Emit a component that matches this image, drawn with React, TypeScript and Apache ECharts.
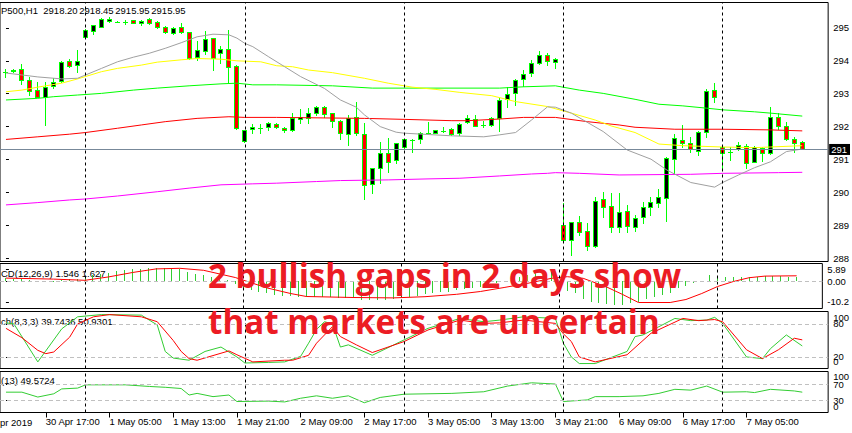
import React, { useEffect, useRef } from "react";
import * as echarts from "echarts";

// ---------- DATA ----------
// OHLC of each H1 bar: [open, high, low, close]
const ohlc: [number, number, number, number][] = [
  [2939.6, 2940.3, 2937.9, 2939.5], [2939.9, 2940.4, 2939.4, 2940.0], [2940.3, 2941.9, 2935.9, 2937.1],
  [2937.1, 2937.9, 2932.5, 2933.8], [2934.0, 2936.6, 2931.8, 2932.0], [2931.8, 2936.6, 2923.4, 2934.9],
  [2935.3, 2937.6, 2934.6, 2936.4], [2936.8, 2942.9, 2936.6, 2942.6], [2942.9, 2943.4, 2941.1, 2941.3],
  [2941.5, 2946.2, 2939.6, 2942.9], [2950.2, 2952.5, 2950.0, 2952.3], [2952.1, 2953.8, 2951.0, 2953.8],
  [2953.3, 2955.8, 2953.1, 2955.6], [2955.1, 2956.3, 2954.8, 2955.7], [2954.8, 2955.0, 2954.6, 2954.8],
  [2954.8, 2955.3, 2954.1, 2954.8], [2955.3, 2955.4, 2954.3, 2954.3], [2954.3, 2955.3, 2953.8, 2955.1],
  [2955.5, 2955.8, 2954.0, 2954.3], [2954.8, 2955.1, 2952.8, 2953.3], [2953.3, 2953.5, 2951.3, 2951.8],
  [2951.5, 2953.3, 2951.0, 2952.8], [2953.1, 2954.5, 2951.3, 2951.6], [2951.6, 2951.7, 2943.6, 2943.7],
  [2944.2, 2949.0, 2943.2, 2946.2], [2946.0, 2952.0, 2945.0, 2949.4], [2949.8, 2949.9, 2940.1, 2943.7],
  [2945.2, 2947.4, 2942.2, 2946.4], [2946.4, 2952.3, 2936.1, 2941.1], [2941.3, 2941.5, 2922.3, 2922.4],
  [2918.6, 2921.9, 2918.3, 2921.9], [2922.1, 2923.7, 2920.9, 2922.9], [2922.4, 2923.7, 2920.9, 2922.4],
  [2922.7, 2924.3, 2921.9, 2923.9], [2923.7, 2923.9, 2922.4, 2922.7], [2922.6, 2922.9, 2921.4, 2921.9],
  [2921.9, 2927.0, 2921.7, 2925.4], [2925.1, 2928.2, 2923.9, 2925.7], [2925.4, 2928.5, 2923.9, 2927.0],
  [2927.0, 2929.2, 2926.4, 2929.0], [2928.8, 2929.2, 2925.7, 2926.7], [2927.0, 2927.1, 2922.7, 2924.6],
  [2924.7, 2924.9, 2919.0, 2920.9], [2920.6, 2926.4, 2917.3, 2925.4], [2925.7, 2930.5, 2920.4, 2920.9],
  [2920.6, 2923.9, 2900.8, 2905.2], [2905.5, 2910.3, 2902.6, 2910.2], [2910.2, 2918.3, 2905.9, 2914.8],
  [2914.8, 2919.5, 2909.2, 2912.2], [2912.8, 2918.0, 2911.8, 2917.8], [2916.6, 2919.1, 2916.5, 2919.0],
  [2918.8, 2919.0, 2915.3, 2918.9], [2919.0, 2921.4, 2917.8, 2920.9], [2921.0, 2924.4, 2920.9, 2921.1],
  [2921.1, 2922.0, 2920.9, 2921.9], [2921.7, 2922.7, 2921.3, 2921.7], [2922.1, 2922.4, 2920.3, 2920.6],
  [2920.9, 2923.9, 2920.3, 2923.7], [2924.2, 2926.4, 2924.1, 2925.4], [2925.1, 2926.4, 2923.1, 2923.2],
  [2923.4, 2924.7, 2922.9, 2923.4], [2923.4, 2925.7, 2923.1, 2925.6], [2925.4, 2931.5, 2921.7, 2931.0],
  [2931.2, 2934.9, 2928.8, 2932.7], [2933.0, 2937.3, 2929.5, 2937.1], [2937.3, 2940.1, 2935.3, 2938.9],
  [2939.1, 2943.2, 2938.3, 2942.2], [2942.2, 2945.9, 2941.8, 2944.7], [2944.7, 2945.2, 2941.6, 2942.9],
  [2942.5, 2943.7, 2940.8, 2943.4], [2892.9, 2899.6, 2888.2, 2888.4], [2888.4, 2894.0, 2883.9, 2893.8],
  [2893.8, 2895.7, 2890.0, 2890.8], [2891.2, 2893.5, 2885.4, 2886.7], [2886.7, 2901.6, 2886.4, 2900.2],
  [2900.8, 2903.1, 2895.5, 2898.6], [2898.9, 2902.8, 2891.0, 2892.5], [2892.3, 2902.8, 2890.8, 2896.9],
  [2897.2, 2899.1, 2891.0, 2892.8], [2892.5, 2896.0, 2891.3, 2895.0], [2895.3, 2900.0, 2893.5, 2898.4],
  [2898.6, 2901.6, 2896.0, 2899.9], [2899.6, 2903.9, 2898.4, 2901.4], [2901.3, 2913.8, 2894.3, 2913.3],
  [2913.0, 2920.6, 2908.5, 2919.4], [2918.8, 2923.4, 2916.8, 2917.8], [2917.8, 2919.8, 2915.3, 2916.0],
  [2915.6, 2921.6, 2914.3, 2921.4], [2921.2, 2934.2, 2919.8, 2933.7], [2934.0, 2936.3, 2930.5, 2932.0],
  [2916.6, 2916.8, 2909.7, 2915.0], [2915.1, 2916.6, 2912.8, 2915.2], [2916.0, 2918.2, 2915.8, 2917.2],
  [2917.1, 2917.5, 2910.4, 2911.9], [2912.2, 2917.1, 2912.1, 2916.8], [2916.3, 2916.6, 2912.4, 2914.8],
  [2914.8, 2929.0, 2914.6, 2925.7], [2925.7, 2927.0, 2922.1, 2923.2], [2923.2, 2924.2, 2918.8, 2919.0],
  [2919.0, 2919.8, 2915.3, 2918.0], [2918.2, 2918.45, 2915.95, 2915.95],
];

// trading sessions (bar times)
const sessionDays = ["30 Apr", "1 May", "2 May", "3 May", "6 May", "7 May"];
const sessionFirstHour = [12, 2, 2, 2, 2, 2];
const sessionBarCount = [10, 20, 20, 20, 20, 11];

const daySeparators = [10, 30, 50, 70, 90];
const timeLabelBars = [5, 13, 21, 29, 37, 45, 53, 61, 69, 77, 85, 93];
const firstTimeLabel = "pr 2019";

// moving averages: [bar, price]
const maGray: [number, number][] = [
  [0, 2939.2], [2, 2938.6], [4, 2938.0], [7, 2937.4], [9, 2937.6], [10, 2938.6], [12, 2940.6], [14, 2942.6],
  [16, 2944.0], [18, 2945.2], [20, 2946.7], [22, 2948.4], [24, 2950.2], [26, 2951.0], [28, 2950.8], [29, 2949.8],
  [30, 2948.2], [31, 2947.2], [33, 2944.1], [35, 2941.1], [37, 2938.1], [40, 2934.5], [42, 2931.0], [44, 2928.8],
  [45, 2926.5], [47, 2922.9], [49, 2921.2], [50, 2920.9], [56, 2920.1], [60, 2919.8], [62, 2920.4], [64, 2921.1],
  [66, 2924.9], [68, 2928.9], [69, 2928.8], [71, 2927.0], [75, 2921.4], [78, 2915.8], [81, 2913.0], [83, 2909.7],
  [86, 2905.9], [89, 2904.5], [90, 2905.9], [92, 2908.2], [94, 2910.4], [96, 2912.2], [98, 2915.3], [100, 2916.1],
];
const maYellow: [number, number][] = [
  [0, 2933.5], [2, 2934.0], [4, 2934.9], [7, 2936.1], [9, 2937.4], [12, 2939.6], [14, 2940.6], [17, 2941.6],
  [19, 2942.5], [22, 2943.2], [24, 2943.6], [27, 2943.4], [29, 2942.9], [32, 2942.6], [34, 2941.4], [36, 2941.1],
  [38, 2940.1], [41, 2939.3], [45, 2937.6], [48, 2936.1], [51, 2934.9], [54, 2934.2], [57, 2933.3], [61, 2932.3],
  [64, 2930.5], [68, 2929.0], [71, 2927.0], [74, 2924.9], [76, 2923.1], [79, 2921.1], [82, 2917.6], [85, 2917.1],
  [90, 2916.7], [94, 2916.5], [96, 2916.7], [100, 2917.1],
];
const maGreen: [number, number][] = [
  [0, 2931.0], [4, 2931.5], [6, 2932.0], [9, 2932.5], [12, 2933.0], [16, 2934.0], [19, 2934.6], [23, 2935.3],
  [27, 2935.9], [29, 2936.1], [31, 2935.6], [34, 2935.6], [41, 2935.3], [46, 2934.6], [62, 2934.6], [65, 2935.0],
  [69, 2935.3], [72, 2934.0], [75, 2933.0], [79, 2931.2], [82, 2929.7], [85, 2929.2], [88, 2928.5], [90, 2928.0],
  [94, 2927.4], [96, 2927.0], [100, 2926.1],
];
const maRed: [number, number][] = [
  [0, 2919.0], [4, 2919.8], [8, 2920.6], [10, 2921.1], [14, 2922.4], [17, 2923.4], [20, 2924.4], [24, 2925.4],
  [28, 2925.9], [30, 2925.7], [34, 2925.7], [45, 2925.4], [50, 2925.1], [56, 2924.7], [58, 2924.7], [62, 2925.2],
  [65, 2925.7], [69, 2925.7], [73, 2924.4], [77, 2923.4], [79, 2922.7], [84, 2922.1], [90, 2922.1], [96, 2921.9],
  [100, 2921.6],
];
const maMagenta: [number, number][] = [
  [0, 2899.1], [4, 2899.8], [8, 2900.6], [10, 2900.9], [14, 2901.8], [19, 2903.1], [23, 2904.2], [27, 2905.2],
  [31, 2905.5], [34, 2905.7], [39, 2906.2], [42, 2906.5], [48, 2906.7], [53, 2907.0], [57, 2907.2], [62, 2907.9],
  [66, 2908.5], [68, 2908.7], [69, 2908.9], [72, 2908.7], [77, 2908.2], [86, 2908.4], [90, 2908.7], [97, 2908.9],
  [100, 2909.0],
];

// MACD(12,26,9)
const macdHist: number[] = [
  1.6, 1.5, 1.1, 0.6, 0.2, 0.3, 0.4, 1.0, 1.2, 1.5, 2.4, 3.2, 3.9, 4.5, 5.1, 5.6, 6.1, 6.5, 6.8, 6.9,
  6.8, 6.6, 6.3, 4.6, 3.8, 3.2, 2.2, 1.8, 1.0, -1.3, -3.2, -4.2, -5.0, -5.8, -6.6, -7.0, -7.4, -7.6, -7.7, -7.6,
  -7.6, -7.8, -8.2, -8.0, -8.2, -9.2, -9.4, -9.3, -9.2, -8.6, -8.0, -7.5, -7.0, -6.4, -5.9, -5.4, -5.0, -4.3, -3.6, -3.1,
  -2.6, -1.9, -0.8, 0.2, 1.4, 2.4, 3.4, 4.2, 4.6, 4.8, -3.0, -4.5, -5.8, -8.8, -10.0, -10.8, -11.3, -11.6, -11.6, -10.8,
  -10.0, -8.8, -7.8, -6.6, -5.5, -3.3, -2.2, -0.5, 0.5, 3.3, 2.5, 2.5, 2.5, 2.2, 2.2, 2.2, 2.8, 2.8, 2.8, 2.5,
  2.5,
];
const macdSignal: [number, number][] = [
  [0, 1.7], [6, 1.2], [10, 0.6], [13, 2.3], [16, 4.5], [19, 6.3], [22, 6.6], [25, 5.6], [29, 2.0], [33, -3.2],
  [36, -6.0], [38, -7.5], [44, -8.0], [49, -8.2], [53, -7.6], [57, -6.4], [60, -5.0], [63, -3.0], [66, -0.9],
  [69, 1.6], [71, 2.4], [73, 1.6], [76, -2.8], [78, -6.5], [80, -10.5], [84, -10.5], [86, -9.0], [88, -6.0],
  [90, -2.5], [92, 0.0], [94, 1.9], [96, 2.7], [100, 2.85],
];

// Stochastic(8,3,3)
const stochK: [number, number][] = [
  [0, 82], [1, 80], [4, 11], [7, 71], [9, 93], [12, 97], [17, 96], [19, 78], [20, 30], [21, 18], [23, 14],
  [25, 30], [27, 38], [29, 20], [30, 9], [33, 10], [35, 11], [37, 21], [38, 45], [39, 70], [40, 84], [41, 80],
  [42, 38], [43, 42], [46, 23], [50, 51], [53, 72], [57, 90], [60, 84], [62, 87], [65, 93], [69, 90], [70, 45],
  [71, 20], [72, 8], [74, 8], [78, 30], [79, 57], [80, 60], [82, 75], [84, 90], [86, 86], [88, 87], [89, 92],
  [90, 81], [93, 20], [95, 17], [96, 35], [98, 60], [100, 40],
];
const stochD: [number, number][] = [
  [0, 72], [2, 55], [4, 32], [5, 26], [6, 29], [8, 56], [9, 80], [11, 93], [13, 97], [17, 93], [19, 84],
  [21, 50], [22, 30], [23, 17], [24, 14], [28, 31], [29, 24], [31, 11], [35, 14], [36, 14], [38, 23], [39, 45],
  [41, 75], [42, 57], [44, 42], [46, 28], [50, 48], [53, 69], [57, 87], [60, 81], [62, 82], [65, 87], [69, 81],
  [70, 62], [71, 48], [72, 20], [74, 11], [78, 24], [81, 63], [85, 90], [87, 86], [89, 88], [90, 84], [93, 33],
  [95, 17], [97, 33], [99, 54], [100, 51],
];

// RSI(13)
const rsi: [number, number][] = [
  [0, 50], [2, 50], [4, 38], [6, 46], [7, 58], [9, 60], [10, 68], [12, 68], [15, 68], [18, 64], [20, 62],
  [22, 59], [23, 43], [24, 47], [26, 39], [28, 43], [29, 27], [33, 28], [35, 26], [37, 35], [39, 41], [41, 35],
  [43, 41], [45, 24], [47, 37], [50, 45], [56, 47], [60, 51], [63, 65], [66, 73], [69, 70], [70, 27], [73, 31],
  [74, 39], [77, 39], [80, 41], [82, 47], [84, 57], [86, 55], [88, 65], [90, 50], [93, 51], [94, 49], [96, 57],
  [99, 53], [100, 50],
];

// axis tick values
const priceTicks = [2952.9, 2942.9, 2932.9, 2922.9, 2912.9, 2902.9, 2892.9, 2882.9];
const macdTicks = [5.89, 0, -10.2];
const stochLevels = [80, 20];
const rsiLevels = [70, 30];
const boundTicks = [100, 0];

// indicator captions
const symbolCaption = "P500,H1";
const macdCaption = "CD(12,26,9) 1.546 1.627";
const stochCaption = "ch(8,3,3) 39.7436 50.9301";
const rsiCaption = "(13) 49.5724";
const headline = ["2 bullish gaps in 2 days show", "that markets are uncertain"];

// ---------- STYLE ----------
const FONT = "Liberation Sans";
const FS = 9.5;
const LIME = "#00ff00";
const IND_GREEN = "#32cd32";

function buildTimes(): string[] {
  const out: string[] = [];
  sessionDays.forEach((d, i) => {
    for (let j = 0; j < sessionBarCount[i]; j++) {
      const h = sessionFirstHour[i] + j;
      out.push(`${d} ${String(h).padStart(2, "0")}:00`);
    }
  });
  return out;
}

function buildOption(): any {
  const times = buildTimes();
  const last = ohlc[ohlc.length - 1];
  const lastClose = last[3];

  const gridBase = {
    left: -1.5, right: 21.5, show: true, borderColor: "#000", borderWidth: 1,
    backgroundColor: "transparent", containLabel: false,
  };
  const grid = [
    { ...gridBase, top: 2.5, height: 259 },
    { ...gridBase, top: 263.5, height: 45 },
    { ...gridBase, top: 311.5, height: 57 },
    { ...gridBase, top: 371.5, height: 41 },
  ];

  const xAxis = [0, 1, 2, 3].map((i) => ({
    type: "value", gridIndex: i, min: -0.75, max: 103.25,
    show: i === 3,
    axisLine: { show: false },
    splitLine: { show: false },
    axisTick: { show: i === 3, customValues: timeLabelBars, length: 5, lineStyle: { color: "#000", width: 1 } },
    axisLabel: {
      show: i === 3, customValues: timeLabelBars,
      formatter: (v: number) => times[Math.round(v)] || "",
      align: "left", margin: 4, color: "#000", fontFamily: FONT, fontSize: FS,
      showMinLabel: true, showMaxLabel: true,
    },
  }));

  const lbl = { color: "#000", fontFamily: FONT, fontSize: FS };
  const yBase = {
    type: "value", position: "right",
    axisLine: { show: false }, splitLine: { show: false },
  };
  const tick = (vals: number[]) => ({ show: true, customValues: vals, length: 3, lineStyle: { color: "#000", width: 1 } });
  const richShift = {
    t: { ...lbl, padding: [10, 0, 0, 0] },
    b: { ...lbl, padding: [0, 0, 13, 0] },
  };
  const lblCommon = { ...lbl, margin: 5, showMinLabel: true, showMaxLabel: true, hideOverlap: false };
  const boundFormatter = (v: number) => (v >= 100 ? "{t|100}" : "{b|0}");
  const yAxis = [
    {
      ...yBase, gridIndex: 0, min: 2881.89, max: 2960.63,
      axisTick: tick(priceTicks),
      axisLabel: { ...lblCommon, customValues: priceTicks, formatter: (v: number) => v.toFixed(2).slice(0, 3) },
    },
    {
      ...yBase, gridIndex: 1, min: -13.5, max: 9.0,
      axisTick: tick(macdTicks),
      axisLabel: { ...lblCommon, customValues: macdTicks, formatter: (v: number) => v.toFixed(2).slice(0, 5) },
    },
    {
      ...yBase, gridIndex: 2, min: -1, max: 102.6,
      axisTick: tick(stochLevels),
      axisLabel: { ...lblCommon, customValues: stochLevels, formatter: (v: number) => String(v) },
    },
    {
      ...yBase, gridIndex: 3, min: 0, max: 100.8,
      axisTick: tick(rsiLevels),
      axisLabel: { ...lblCommon, customValues: rsiLevels, formatter: (v: number) => String(v) },
    },
    {
      ...yBase, gridIndex: 2, min: -1, max: 102.6,
      axisTick: { show: false },
      axisLabel: { ...lblCommon, customValues: boundTicks, rich: richShift, formatter: boundFormatter },
    },
    {
      ...yBase, gridIndex: 3, min: 0, max: 100.8,
      axisTick: { show: false },
      axisLabel: { ...lblCommon, customValues: boundTicks, rich: richShift, formatter: boundFormatter },
    },
  ];

  const sepLines = daySeparators.map((k) => ({ xAxis: k, lineStyle: { color: "#000", type: [3, 3], width: 1 } }));
  const level = (v: number) => ({ yAxis: v, lineStyle: { color: "#c0c0c0", type: [4, 3], width: 1 } });
  const mk = (data: any[]) => ({ silent: true, symbol: ["none", "none"], label: { show: false }, animation: false, precision: 4, data });

  const bidLine = {
    yAxis: lastClose,
    lineStyle: { color: "#778899", type: "solid", width: 1 },
    label: {
      show: true, position: "end", distance: 1,
      formatter: () => lastClose.toFixed(2).slice(0, 3),
      color: "#fff", backgroundColor: "#000", padding: [1, 3, 0, 2],
      fontFamily: FONT, fontSize: FS,
    },
  };

  const line = (xi: number, data: [number, number][], color: string, z = 3, markLine?: any) => ({
    type: "line", xAxisIndex: xi, yAxisIndex: xi, data, showSymbol: false, symbol: "none",
    lineStyle: { color, width: 1 }, z, silent: true, animation: false, ...(markLine ? { markLine } : {}),
  });

  const candleSeries = {
    type: "custom", xAxisIndex: 0, yAxisIndex: 0, z: 2, silent: true, clip: true,
    data: ohlc.map((d, i) => [i, d[0], d[1], d[2], d[3]]),
    encode: { x: 0, y: [1, 2, 3, 4] },
    renderItem: (_p: any, api: any) => {
      const k = api.value(0);
      const o = api.value(1), h = api.value(2), l = api.value(3), c = api.value(4);
      const po = api.coord([k, o]);
      const col = Math.floor(po[0] + 1e-6);
      const yO = Math.round(po[1]);
      const yC = Math.round(api.coord([k, c])[1]);
      const yH = Math.round(api.coord([k, h])[1]);
      const yL = Math.round(api.coord([k, l])[1]);
      const top = Math.min(yO, yC), bot = Math.max(yO, yC);
      const children: any[] = [
        { type: "rect", shape: { x: col, y: yH, width: 1, height: Math.max(1, yL - yH + 1) }, style: { fill: LIME } },
        { type: "rect", shape: { x: col - 2, y: top, width: 5, height: bot - top + 1 }, style: { fill: LIME } },
      ];
      if (bot - top >= 2) {
        children.push({
          type: "rect", shape: { x: col - 1, y: top + 1, width: 3, height: bot - top - 1 },
          style: { fill: c >= o ? "#000000" : "#ff0000" },
        });
      }
      return { type: "group", children };
    },
  };

  const histSeries = {
    type: "custom", xAxisIndex: 1, yAxisIndex: 1, z: 2, silent: true, clip: true,
    data: macdHist.map((v, i) => [i, v]),
    encode: { x: 0, y: 1 },
    renderItem: (_p: any, api: any) => {
      const k = api.value(0), v = api.value(1);
      const p = api.coord([k, v]);
      const z0 = api.coord([k, 0])[1];
      const col = Math.floor(p[0] + 1e-6);
      const yz = Math.floor(z0);
      const yv = Math.round(p[1]);
      const y1 = Math.min(yz, yv), y2 = Math.max(yz, yv);
      return { type: "rect", shape: { x: col, y: y1, width: 1, height: Math.max(1, y2 - y1) }, style: { fill: IND_GREEN } };
    },
  };

  const series = [
    candleSeries,
    line(0, maMagenta, "#ff00ff", 3, mk([...sepLines, bidLine])),
    line(0, maRed, "#ff0000"),
    line(0, maGreen, LIME),
    line(0, maYellow, "#ffff00"),
    line(0, maGray, "#a0a0a0"),
    histSeries,
    line(1, macdSignal, "#ff0000", 3, mk([...sepLines, level(0)])),
    line(2, stochK, IND_GREEN, 3, mk([...sepLines, ...stochLevels.map(level)])),
    line(2, stochD, "#ff0000", 4),
    line(3, rsi, IND_GREEN, 3, mk([...sepLines, ...rsiLevels.map(level)])),
  ];

  const txt = (text: string, x: number, y: number, extra: any = {}, z = 1) => ({
    type: "text", x, y, z, silent: true,
    style: {
      text, fill: "#000", fontFamily: FONT, fontSize: FS,
      align: "left", verticalAlign: "middle", textAlign: "left", textVerticalAlign: "middle",
      ...extra,
    },
  });

  const headerValues = [last[0], last[1], last[2], last[3]].map((v) => v.toFixed(2));
  const graphic = [
    txt(symbolCaption, 1, 10.7),
    ...headerValues.map((s, i) => txt(s, 43.3 + 36 * i, 10.7)),
    txt(macdCaption, 1, 273),
    txt(stochCaption, 1, 321),
    txt(rsiCaption, 1, 380.3),
    txt(firstTimeLabel, 0, 422),
    ...headline.map((s, i) =>
      txt(s, 208, [275.8, 321.4][i], { fill: "#ec1c24", fontFamily: "Open Sans", fontSize: 33.2, fontWeight: "bold" }, 100)
    ),
  ];

  return {
    animation: false,
    backgroundColor: "#ffffff",
    grid, xAxis, yAxis, series, graphic,
  };
}

export default function App() {
  const ref = useRef<HTMLDivElement>(null);
  useEffect(() => {
    if (!ref.current) return;
    const chart = echarts.init(ref.current, null, { renderer: "svg" });
    chart.setOption(buildOption());
    return () => chart.dispose();
  }, []);
  return (
    <div
      ref={ref}
      style={{ position: "absolute", left: 0, top: 0, width: 852, height: 433, background: "#fff" }}
    />
  );
}
